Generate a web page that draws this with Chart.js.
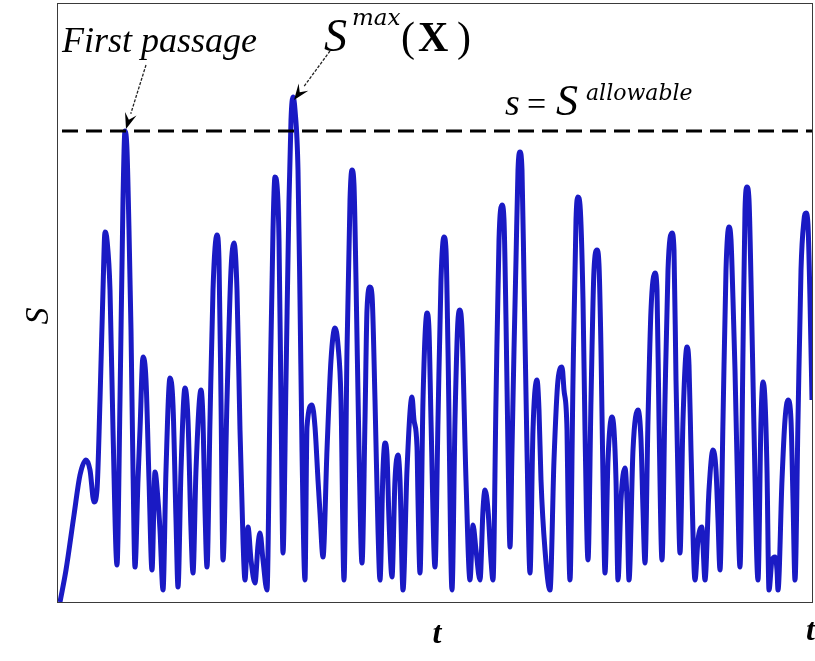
<!DOCTYPE html>
<html>
<head>
<meta charset="utf-8">
<script src="https://cdn.jsdelivr.net/npm/chart.js@4.4.1/dist/chart.umd.min.js"></script>
<style>
  html, body { margin: 0; padding: 0; background: #ffffff; }
  #wrap { width: 815px; height: 661px; position: relative; }
</style>
</head>
<body>
<div id="wrap"><canvas id="c" width="815" height="661"></canvas></div>
<script>
// time (arbitrary units)
const tValues = [
  0.2,0.8,1.6,2.2,2.8,3.2,3.6,3.9,4.2,4.5,4.7,4.9,5.2,5.5,5.9,6.2,6.5,6.7,6.9,7.1,
  7.3,7.5,7.7,8.0,8.2,8.5,8.8,9.1,9.4,9.7,10.0,10.2,10.5,10.8,11.2,11.5,11.8,12.0,12.3,12.7,
  13.0,13.3,13.5,13.8,14.3,14.5,14.7,14.9,15.2,15.5,15.9,16.1,16.3,16.5,16.9,17.3,17.6,17.9,18.2,18.5,
  18.7,19.0,19.3,19.7,20.0,20.2,20.5,20.9,21.2,21.5,21.7,21.9,22.1,22.3,22.5,22.8,23.1,23.3,23.5,23.7,
  24.0,24.2,24.4,24.7,24.9,25.4,25.7,26.0,26.2,26.5,26.9,27.3,27.7,28.0,28.3,28.6,28.9,29.2,29.4,29.6,
  29.8,30.1,30.4,30.7,30.9,31.2,31.4,31.7,32.0,32.2,32.5,32.7,32.9,33.1,33.4,33.7,34.0,34.2,34.5,34.9,
  35.4,35.6,35.9,36.0,36.2,36.5,36.9,37.1,37.3,37.7,38.0,38.3,38.6,38.8,39.0,39.4,39.7,40.0,40.2,40.4,
  40.8,41.2,41.5,41.8,42.2,42.5,42.7,43.0,43.3,43.5,43.8,44.1,44.4,44.6,44.8,45.0,45.2,45.4,45.6,45.8,
  46.0,46.2,46.4,46.6,46.9,47.2,47.5,47.9,48.1,48.3,48.7,49.2,49.6,50.0,50.4,50.6,50.9,51.0,51.2,51.5,
  51.8,52.0,52.2,52.5,52.7,53.0,53.3,53.6,53.9,54.1,54.3,54.5,54.7,55.0,55.4,55.6,55.8,56.0,56.3,56.7,
  56.9,57.1,57.5,58.0,58.3,58.5,58.7,59.0,59.3,59.7,59.9,60.1,60.4,60.7,61.0,61.4,61.6,61.8,62.0,62.2,
  62.5,62.9,63.1,63.3,63.7,64.0,64.4,64.5,64.7,65.1,65.5,65.8,66.0,66.2,66.5,66.8,67.1,67.3,67.5,67.7,
  67.9,68.2,68.5,68.7,68.9,69.1,69.3,69.6,70.0,70.3,70.5,70.7,70.9,71.1,71.4,71.7,71.9,72.0,72.4,72.7,
  73.0,73.3,73.5,73.7,74.0,74.3,74.6,74.8,75.0,75.2,75.4
];
// response S (arbitrary units)
const sValues = [
  0,3.2,8.7,12.7,14.2,13.2,10.0,11.2,20.2,31.2,37.0,36.2,31.2,17.2,3.7,20.2,40.2,47.1,45.2,37.2,
  27.2,13.2,3.5,12.2,17.2,24.5,22.2,12.2,3.2,13.0,10.2,7.2,1.2,13.2,22.4,19.7,8.2,1.5,13.2,21.4,
  18.2,7.2,2.9,13.2,21.2,18.2,9.2,3.5,18.2,31.2,36.7,34.2,20.2,4.2,20.2,33.2,35.9,31.2,17.2,6.2,
  2.2,7.5,4.2,1.9,5.7,6.9,4.2,1.2,20.2,37.2,42.5,41.7,36.2,20.2,4.9,22.2,40.2,48.2,50.5,49.2,
  43.2,30.2,15.2,2.2,17.5,19.7,17.5,12.2,8.9,4.5,15.2,24.2,27.4,25.7,20.2,2.2,25.2,40.2,43.2,41.7,
  32.2,15.2,3.9,18.2,29.2,31.5,30.7,20.2,7.2,2.2,13.2,15.9,14.7,8.2,2.5,12.2,14.7,12.2,1.2,13.2,
  20.5,18.2,15.5,10.2,2.9,20.2,28.9,27.2,18.2,3.5,18.2,32.2,36.5,35.2,25.2,1.2,18.2,28.2,29.2,27.2,
  12.2,2.2,7.7,5.2,2.2,9.2,11.2,9.2,4.2,2.2,20.2,36.2,39.7,38.2,28.2,15.2,5.5,15.2,25.2,34.2,
  43.2,45.0,43.2,32.2,15.2,2.9,17.2,22.2,19.2,12.2,5.2,1.2,14.2,22.2,23.5,21.2,17.2,10.2,2.2,22.2,
  38.2,40.5,39.7,30.2,17.2,4.2,20.2,33.2,35.2,33.7,25.2,12.2,2.9,14.2,18.5,17.2,12.2,2.2,10.2,13.4,
  10.2,2.2,15.2,19.2,16.2,9.2,3.9,18.2,29.2,32.9,31.2,18.2,4.2,20.2,33.2,36.9,35.2,22.2,12.2,4.9,
  18.2,25.5,23.7,15.2,2.2,6.2,7.5,5.7,2.2,11.2,15.2,13.2,8.2,3.2,18.2,33.2,37.5,36.2,30.2,23.2,
  14.2,3.5,25.2,39.2,41.5,40.2,32.2,17.2,2.2,18.2,22.0,20.2,13.2,1.2,4.2,4.5,3.2,1.2,12.2,18.2,
  20.2,18.2,10.2,2.2,18.2,33.2,38.2,38.9,37.7,30.2,20.2
];
const sAllowable = 47.1;
const tRange = [0, 75.4];
const sRange = [0, 59.8];
const firstPassage = { t: 6.7, s: 47.1 };
const sMaxPoint = { t: 23.5, s: 50.5 };

const curve = tValues.map((t, i) => ({ x: t, y: sValues[i] }));
const limitLine = [{ x: 0.4, y: sAllowable }, { x: tRange[1], y: sAllowable }];

function arrow(ctx, x0, y0, x1, y1) {
  const ang = Math.atan2(y1 - y0, x1 - x0);
  const L = 16, W = 6;
  const bx = x1 - L * Math.cos(ang), by = y1 - L * Math.sin(ang);
  ctx.save();
  ctx.strokeStyle = '#222';
  ctx.fillStyle = '#000';
  ctx.lineWidth = 1.3;
  ctx.setLineDash([3, 1.5]);
  ctx.beginPath(); ctx.moveTo(x0, y0); ctx.lineTo(bx, by); ctx.stroke();
  ctx.setLineDash([]);
  ctx.beginPath();
  ctx.moveTo(x1, y1);
  ctx.lineTo(bx + W * Math.sin(ang), by - W * Math.cos(ang));
  ctx.lineTo(x1 - 0.6 * L * Math.cos(ang), y1 - 0.6 * L * Math.sin(ang));
  ctx.lineTo(bx - W * Math.sin(ang), by + W * Math.cos(ang));
  ctx.closePath(); ctx.fill();
  ctx.restore();
}

const annotate = {
  id: 'annotate',
  afterDraw(chart) {
    const { ctx, chartArea: a, scales: { x, y } } = chart;
    ctx.save();
    // frame
    ctx.strokeStyle = '#3a3a3a';
    ctx.lineWidth = 1;
    ctx.strokeRect(a.left - 0.5, a.top - 0.5, a.right - a.left + 1, a.bottom - a.top + 1);
    ctx.fillStyle = '#000';
    ctx.textBaseline = 'alphabetic';
    ctx.textAlign = 'left';
    // First passage
    ctx.font = 'italic 36px "Liberation Serif", serif';
    ctx.fillText('First passage', 62, 52);
    const fx = x.getPixelForValue(firstPassage.t), fy = y.getPixelForValue(firstPassage.s);
    arrow(ctx, fx + 21, fy - 66, fx + 1, fy - 2);
    // S^max(X)
    ctx.font = 'italic 46px "Liberation Serif", serif';
    ctx.fillText('S', 324, 51);
    ctx.font = 'italic 23px "DejaVu Serif", serif';
    ctx.fillText('max', 352, 25);
    ctx.font = '42px "Liberation Serif", serif';
    ctx.fillText('(', 401, 51);
    ctx.font = 'bold 42px "Liberation Serif", serif';
    ctx.fillText('X', 418, 51);
    ctx.font = '42px "Liberation Serif", serif';
    ctx.fillText(')', 457, 51);
    const mx = x.getPixelForValue(sMaxPoint.t), my = y.getPixelForValue(sMaxPoint.s);
    arrow(ctx, mx + 37, my - 46, mx + 1, my + 3);
    // s = S^allowable
    ctx.font = 'italic 38px "Liberation Serif", serif';
    ctx.fillText('s', 505, 115);
    ctx.font = '34px "Liberation Serif", serif';
    ctx.fillText('=', 527, 115);
    ctx.font = 'italic 44px "Liberation Serif", serif';
    ctx.fillText('S', 556, 115);
    ctx.font = 'italic 22px "DejaVu Serif", serif';
    ctx.fillText('allowable', 586, 100);
    // axis labels
    ctx.font = 'italic 34px "Liberation Serif", serif';
    ctx.save();
    ctx.translate(48, 316);
    ctx.rotate(-Math.PI / 2);
    ctx.textAlign = 'center';
    ctx.fillText('S', 0, 0);
    ctx.restore();
    ctx.font = 'bold italic 32px "Liberation Serif", serif';
    ctx.textAlign = 'center';
    ctx.fillText('t', 437, 643);
    ctx.textAlign = 'left';
    ctx.fillText('t', 806, 640);
    ctx.restore();
  }
};

new Chart(document.getElementById('c'), {
  type: 'line',
  data: {
    datasets: [
      {
        data: limitLine,
        borderColor: '#000000',
        borderWidth: 3,
        borderDash: [16, 8],
        pointRadius: 0,
        fill: false
      },
      {
        data: curve,
        borderColor: '#1a1ac4',
        borderWidth: 5,
        pointRadius: 0,
        cubicInterpolationMode: 'monotone',
        fill: false
      }
    ]
  },
  options: {
    responsive: false,
    devicePixelRatio: 1,
    animation: false,
    layout: { padding: { left: 58, top: 4, right: 3, bottom: 59 } },
    scales: {
      x: { type: 'linear', display: false, min: tRange[0], max: tRange[1] },
      y: { type: 'linear', display: false, min: sRange[0], max: sRange[1] }
    },
    plugins: { legend: { display: false }, tooltip: { enabled: false } }
  },
  plugins: [annotate]
});
</script>
</body>
</html>
